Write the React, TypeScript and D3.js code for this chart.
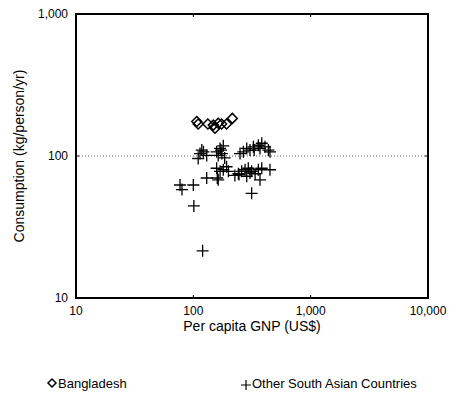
import React from 'react'
import * as d3 from 'd3'

// Bangladesh: [per capita GNP (US$), consumption (kg/person/yr)]
const bangladesh: [number, number][] = [
  [107, 175], [110, 168], [133, 168], [148, 165], [153, 157],
  [163, 170], [174, 168], [192, 168], [215, 184],
]

// Other South Asian countries
const others: [number, number][] = [
  // around the 100 line, left group
  [114, 104], [122, 107], [130, 101], [110, 96], [118, 110], [158, 107],
  [169, 113], [180, 118], [163, 101], [175, 104], [172, 110], [185, 97],
  // upper right group
  [250, 104], [267, 107], [285, 113], [304, 110], [325, 116], [330, 110],
  [358, 119], [370, 113], [383, 123], [408, 116], [436, 110], [450, 107],
  // middle group
  [158, 82], [169, 78], [180, 80], [192, 84], [199, 78], [226, 73],
  [242, 75], [245, 74], [258, 78], [276, 80], [285, 72], [294, 82],
  [304, 76], [314, 78], [336, 75], [358, 80], [383, 82], [450, 80],
  // lower stragglers
  [77, 62.5], [80, 58], [100, 62.5], [101, 44.5], [120, 21.5], [130, 70],
  [163, 68], [160, 70], [314, 54.6], [370, 68],
]

const xTicks = [10, 100, 1000, 10000]
const yTicks = [10, 100, 1000]
const tickLabels = ['10', '100', '1,000', '10,000']
const yTickLabels = ['10', '100', '1,000']

const xTitle = 'Per capita GNP (US$)'
const yTitle = 'Consumption (kg/person/yr)'
const legendLabels = ['Bangladesh', 'Other South Asian Countries']

const W = 464
const H = 396
const margin = { top: 14, right: 36, bottom: 98, left: 76 }
const font = 'Liberation Sans, Arial, Helvetica, sans-serif'

export default function App() {
  const x = d3.scaleLog().domain([10, 10000]).range([margin.left, W - margin.right])
  const y = d3.scaleLog().domain([10, 1000]).range([H - margin.bottom, margin.top])
  const x0 = margin.left
  const x1 = W - margin.right
  const y0 = H - margin.bottom
  const y1 = margin.top

  const diamond = (cx: number, cy: number, r: number) =>
    `M${cx},${cy - r}L${cx + r},${cy}L${cx},${cy + r}L${cx - r},${cy}Z`
  const plus = (cx: number, cy: number, r: number) =>
    `M${cx - r},${cy}H${cx + r}M${cx},${cy - r}V${cy + r}`

  return (
    <svg width={W} height={H} style={{ position: 'absolute', left: 0, top: 0, background: '#fff' }}
      fontFamily={font}>
      {/* reference line at 100 */}
      <line x1={x0} x2={x1} y1={y(100)} y2={y(100)} stroke="#555" strokeWidth={1}
        strokeDasharray="1,2" />

      {/* plus markers */}
      {others.map(([gx, cy], i) => (
        <path key={'o' + i} d={plus(x(gx), y(cy), 6)} stroke="#000" strokeWidth={1.3} fill="none" />
      ))}

      {/* diamonds */}
      {bangladesh.map(([gx, cy], i) => (
        <path key={'b' + i} d={diamond(x(gx), y(cy), 5)} stroke="#000" strokeWidth={1.5} fill="none" />
      ))}

      {/* frame */}
      <rect x={x0} y={y1} width={x1 - x0} height={y0 - y1} fill="none" stroke="#000" strokeWidth={2} />

      {/* inner ticks */}
      {xTicks.map(t => (
        <g key={'xt' + t}>
          <line x1={x(t)} x2={x(t)} y1={y0} y2={y0 - 3} stroke="#000" />
          <line x1={x(t)} x2={x(t)} y1={y1} y2={y1 + 3} stroke="#000" />
        </g>
      ))}
      {yTicks.map(t => (
        <g key={'yt' + t}>
          <line x1={x0} x2={x0 + 3} y1={y(t)} y2={y(t)} stroke="#000" />
          <line x1={x1} x2={x1 - 3} y1={y(t)} y2={y(t)} stroke="#000" />
        </g>
      ))}

      {/* tick labels */}
      {xTicks.map((t, i) => (
        <text key={'xl' + t} x={x(t)} y={y0 + 17} textAnchor="middle" fontSize={12} fill="#000">
          {tickLabels[i]}
        </text>
      ))}
      {yTicks.map((t, i) => (
        <text key={'yl' + t} x={x0 - 8} y={y(t)} dy="0.35em" textAnchor="end" fontSize={12} fill="#000">
          {yTickLabels[i]}
        </text>
      ))}

      {/* axis titles */}
      <text x={(x0 + x1) / 2} y={y0 + 33} textAnchor="middle" fontSize={14} fill="#000">{xTitle}</text>
      <text transform={`translate(24,${(y0 + y1) / 2}) rotate(-90)`} textAnchor="middle" fontSize={14}
        fill="#000">{yTitle}</text>

      {/* legend */}
      <path d={diamond(52, 383, 4)} stroke="#000" strokeWidth={1.5} fill="none" />
      <text x={58} y={387.5} fontSize={13} fill="#000">{legendLabels[0]}</text>
      <path d={plus(246, 385, 5)} stroke="#000" strokeWidth={1.2} fill="none" />
      <text x={252} y={387.5} fontSize={13} fill="#000">{legendLabels[1]}</text>
    </svg>
  )
}
